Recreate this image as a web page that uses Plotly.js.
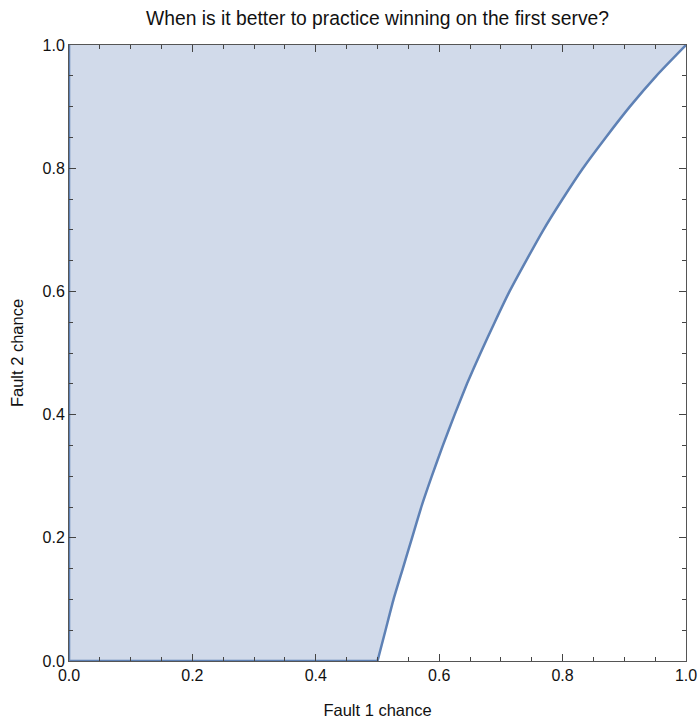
<!DOCTYPE html>
<html>
<head>
<meta charset="utf-8">
<script src="https://cdn.plot.ly/plotly-3.0.1.min.js"></script>
<style>html,body{margin:0;padding:0;background:#fff;}#chart{width:699px;height:719px;}</style>
</head>
<body>
<div id="chart"></div>
<script>
// Boundary of the region where practicing the first serve is better
var fault2 = [0.0, 0.05, 0.1, 0.15, 0.2, 0.25, 0.3, 0.35, 0.4, 0.45, 0.5, 0.55, 0.6, 0.65, 0.7, 0.75, 0.8, 0.85, 0.9, 0.95, 1.0];
var fault1 = [0.500, 0.513, 0.526, 0.541, 0.556, 0.571, 0.588, 0.606, 0.625, 0.645, 0.667, 0.690, 0.714, 0.741, 0.769, 0.800, 0.833, 0.870, 0.909, 0.952, 1.000];
var xTicks = [0.0, 0.2, 0.4, 0.6, 0.8, 1.0];
var yTicks = [0.0, 0.2, 0.4, 0.6, 0.8, 1.0];

var lineColor = '#5E81B5';
var fillTrace = {
  x: [0, 0].concat(fault1), y: [1, 0].concat(fault2), type: 'scatter', mode: 'lines',
  fill: 'toself', fillcolor: 'rgba(209,218,234,1)',
  line: {width: 0, color: 'rgba(0,0,0,0)'},
  hoverinfo: 'skip', showlegend: false
};
var edgeTrace = {
  x: [0, 0, fault1[0]], y: [1, 0, fault2[0]], type: 'scatter', mode: 'lines',
  line: {color: lineColor, width: 2.5}, cliponaxis: false, hoverinfo: 'skip', showlegend: false
};
var curveTrace = {
  x: fault1, y: fault2, type: 'scatter', mode: 'lines',
  line: {color: lineColor, width: 2.5, shape: 'spline', smoothing: 0.5},
  cliponaxis: false, hoverinfo: 'skip', showlegend: false
};

var fontFam = 'Liberation Sans, Arial, sans-serif';
var axisCommon = {
  range: [0, 1], showgrid: false, zeroline: false, layer: 'above traces',
  showline: true, linecolor: '#555', linewidth: 1, mirror: 'allticks',
  ticks: 'inside', ticklen: 7, tickcolor: '#444', tickwidth: 1,
  tickfont: {family: fontFam, size: 16, color: '#111'},
  minor: {dtick: 0.05, ticks: 'inside', ticklen: 4, tickcolor: '#444', tickwidth: 1, showgrid: false}
};

var layout = {
  width: 699, height: 719,
  margin: {l: 69, r: 13, t: 45, b: 58},
  paper_bgcolor: '#fff', plot_bgcolor: '#fff',
  title: {text: 'When is it better to practice winning on the first serve?', x: 0.5, xref: 'paper', y: 0.975, yanchor: 'middle',
          font: {family: fontFam, size: 19.3, color: '#111'}},
  xaxis: Object.assign({}, axisCommon, {tickvals: xTicks, ticktext: xTicks.map(function(v){return v.toFixed(1);}),
    title: {text: 'Fault 1 chance', standoff: 22, font: {family: fontFam, size: 16.5, color: '#111'}}}),
  yaxis: Object.assign({}, axisCommon, {tickvals: yTicks, ticktext: yTicks.map(function(v){return v.toFixed(1);}),
    title: {text: 'Fault 2 chance', standoff: 14, font: {family: fontFam, size: 16.5, color: '#111'}}}),
  showlegend: false
};

Plotly.newPlot('chart', [fillTrace, edgeTrace, curveTrace], layout, {displayModeBar: false, staticPlot: true});
</script>
</body>
</html>
